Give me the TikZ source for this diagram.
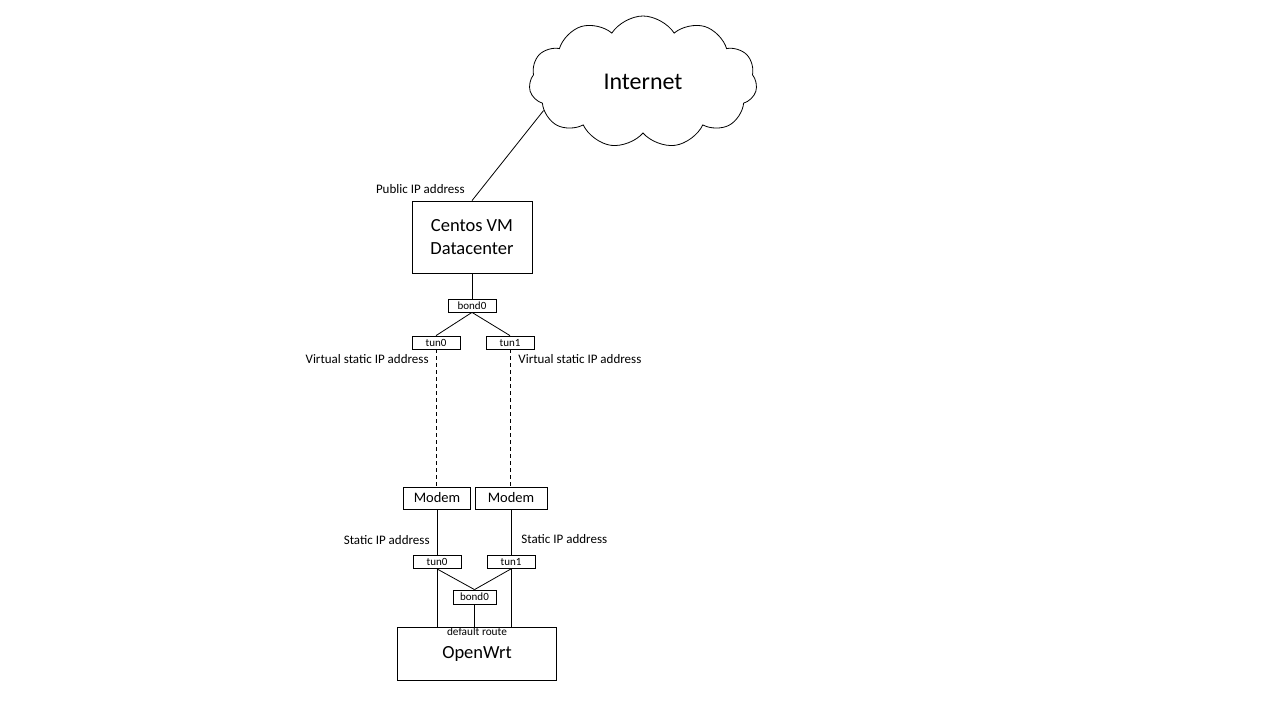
\documentclass[tikz,border=0pt]{standalone}
\usepackage{fontspec}
\setmainfont{Carlito}
\usetikzlibrary{shapes.symbols, positioning}
\tikzstyle{cloudbox} = [cloud, cloud puffs=11, cloud puff arc=115, aspect=1.75, minimum width=228pt, minimum height=132pt, inner sep=0pt, draw=black, font=\fontsize{24}{28}\selectfont]
\tikzstyle{hostbox} = [rectangle, draw=black, inner sep=0pt, text centered]
\tikzstyle{port} = [rectangle, draw=black, minimum width=48pt, minimum height=13pt, inner sep=0pt, font=\fontsize{11}{12}\selectfont]
\tikzstyle{modembox} = [rectangle, draw=black, minimum height=22pt, inner sep=0pt, font=\fontsize{14.5}{16}\selectfont]
\tikzstyle{lbl} = [inner sep=0pt, font=\fontsize{13}{15}\selectfont]
\tikzstyle{link} = [line width=0.8pt]
\tikzstyle{tunnel} = [line width=0.8pt, dash pattern=on 4pt off 3pt]

\begin{document}
\begin{tikzpicture}[x=1pt, y=-1pt, line width=0.8pt]
		\useasboundingbox (0,0) rectangle (1280,720);
		\node (internet) [cloudbox] at (643,82) {Internet};
		\node (centos) [hostbox, minimum width=120pt, minimum height=72pt, align=center, font=\fontsize{18.5}{23}\selectfont] at (472,237) {Centos VM\\Datacenter};
		\node (bondup) [port, below of=centos, node distance=68.5pt] {bond0};
		\node (tunupl) [port, below of=bondup, node distance=37pt, xshift=-36pt] {tun0};
		\node (tunupr) [port, below of=bondup, node distance=37pt, xshift=38pt] {tun1};
		\node (modeml) [modembox, minimum width=67pt, below of=tunupl, node distance=155.5pt, xshift=1pt] {Modem};
		\node (modemr) [modembox, minimum width=72pt, below of=tunupr, node distance=155.5pt, xshift=1pt] {Modem};
		\node (tundownl) [port, below of=modeml, node distance=64pt] {tun0};
		\node (tundownr) [port, below of=modemr, node distance=64pt] {tun1};
		\node (bonddown) [port, minimum width=43pt, minimum height=14pt, below of=tundownl, node distance=35pt, xshift=37.5pt] {bond0};
		\node (openwrt) [hostbox, minimum width=159pt, minimum height=53pt, font=\fontsize{18.5}{22}\selectfont, below of=bonddown, node distance=56.5pt, xshift=2.5pt] {OpenWrt};
		% labels
		\node (publicip) [lbl, anchor=east] at (465,189) {Public IP address};
		\node (virtl) [lbl, anchor=east] at (429,359) {Virtual static IP address};
		\node (virtr) [lbl, anchor=west] at (518,359) {Virtual static IP address};
		\node (staticl) [lbl, anchor=east] at (430,540) {Static IP address};
		\node (staticr) [lbl, anchor=west] at (521,539) {Static IP address};
		\node (defroute) [lbl, font=\fontsize{11.3}{12}\selectfont, anchor=north, yshift=-1pt] at (openwrt.north) {default route};
		% links
		\draw [link] (internet.196) -- (centos.north);
		\draw [link] (centos.south) -- (bondup.north);
		\draw [link] (bondup.south) -- (tunupl.north);
		\draw [link] (bondup.south) -- (tunupr.north);
		\draw [tunnel] (tunupl.south) -- (tunupl.south |- modeml.north);
		\draw [tunnel] (tunupr.south) -- (tunupr.south |- modemr.north);
		\draw [link] (modeml.south) -- (tundownl.north);
		\draw [link] (modemr.south) -- (tundownr.north);
		\draw [link] (tundownl.south) -- (bonddown.north);
		\draw [link] (tundownr.south) -- (bonddown.north);
		\draw [link] (tundownl.south) -- (tundownl.south |- openwrt.north);
		\draw [link] (tundownr.south) -- (tundownr.south |- openwrt.north);
		\draw [link] (bonddown.south) -- (bonddown.south |- openwrt.north);
\end{tikzpicture}
\end{document}
